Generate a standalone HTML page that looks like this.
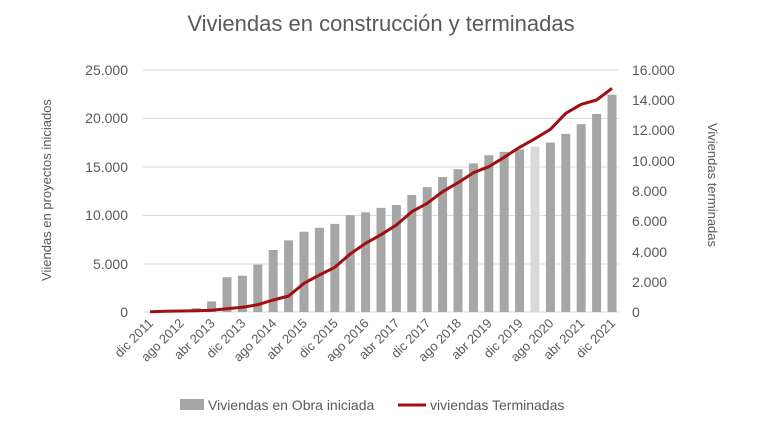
<!DOCTYPE html><html><head><style>body{margin:0;background:#fff}</style></head><body>
<svg width="782" height="430" xmlns="http://www.w3.org/2000/svg" font-family="Liberation Sans, sans-serif" fill="#595959">
<rect width="782" height="430" fill="#fff"/>
<text x="381" y="31" font-size="22" text-anchor="middle">Viviendas en construcción y terminadas</text>
<g stroke="#d9d9d9" stroke-width="1">
<line x1="143" x2="619" y1="70" y2="70"/><line x1="143" x2="619" y1="118.5" y2="118.5"/><line x1="143" x2="619" y1="167" y2="167"/><line x1="143" x2="619" y1="215.5" y2="215.5"/><line x1="143" x2="619" y1="264" y2="264"/><line x1="143" x2="619" y1="312" y2="312"/></g>
<g font-size="14" text-anchor="end"><text x="128" y="75">25.000</text><text x="128" y="123">20.000</text><text x="128" y="172">15.000</text><text x="128" y="220">10.000</text><text x="128" y="269">5.000</text><text x="128" y="317">0</text></g>
<g font-size="14"><text x="632" y="75">16.000</text><text x="632" y="105">14.000</text><text x="632" y="135">12.000</text><text x="632" y="166">10.000</text><text x="632" y="196">8.000</text><text x="632" y="226">6.000</text><text x="632" y="257">4.000</text><text x="632" y="287">2.000</text><text x="632" y="317">0</text></g>
<text transform="translate(51,190) rotate(-90)" font-size="13" text-anchor="middle">Viiendas en proyectos iniciados</text>
<text transform="translate(708,185) rotate(90)" font-size="13" text-anchor="middle">Viviendas terminadas</text>
<g fill="#a6a6a6">
<rect x="191.7" y="308.1" width="9" height="3.9"/>
<rect x="207.1" y="301.4" width="9" height="10.6"/>
<rect x="222.5" y="277.2" width="9" height="34.8"/>
<rect x="237.9" y="275.7" width="9" height="36.3"/>
<rect x="253.3" y="264.6" width="9" height="47.4"/>
<rect x="268.7" y="250" width="9" height="62"/>
<rect x="284.1" y="240.4" width="9" height="71.6"/>
<rect x="299.5" y="231.7" width="9" height="80.3"/>
<rect x="314.9" y="227.8" width="9" height="84.2"/>
<rect x="330.3" y="223.9" width="9" height="88.1"/>
<rect x="345.7" y="215.2" width="9" height="96.8"/>
<rect x="361.1" y="212.3" width="9" height="99.7"/>
<rect x="376.5" y="207.9" width="9" height="104.1"/>
<rect x="391.9" y="205" width="9" height="107"/>
<rect x="407.3" y="194.9" width="9" height="117.1"/>
<rect x="422.7" y="187.1" width="9" height="124.9"/>
<rect x="438.1" y="177" width="9" height="135"/>
<rect x="453.5" y="169.2" width="9" height="142.8"/>
<rect x="468.9" y="163.4" width="9" height="148.6"/>
<rect x="484.3" y="155.2" width="9" height="156.8"/>
<rect x="499.7" y="151.8" width="9" height="160.2"/>
<rect x="515.1" y="149.4" width="9" height="162.6"/>
<rect x="530.5" y="146.5" width="9" height="165.5" fill="#d9d9d9"/>
<rect x="545.9" y="142.6" width="9" height="169.4"/>
<rect x="561.3" y="133.9" width="9" height="178.1"/>
<rect x="576.7" y="124.2" width="9" height="187.8"/>
<rect x="592.1" y="114" width="9" height="198"/>
<rect x="607.5" y="94.7" width="9" height="217.3"/>
</g>
<polyline fill="none" stroke="#a00f14" stroke-width="3" stroke-linejoin="round" points="150,311.7 165.4,311.3 180.8,311 196.2,310.7 211.6,310.3 227,308.7 242.4,307.3 257.8,304.7 273.2,300 288.6,296 304,283.3 319.4,275 334.8,267.3 350.2,254 365.6,243.3 381,234.7 396.4,225 411.8,211.7 427.2,203.3 442.6,191.7 458,182.7 473.4,172.7 488.8,166.7 504.2,157.3 519.6,147.3 535,138.7 550.4,129.3 565.8,113.3 581.2,104.3 596.6,100 612,88.3"/>
<g font-size="13" text-anchor="end">
<text transform="translate(154,324) rotate(-45)">dic 2011</text>
<text transform="translate(184.8,324) rotate(-45)">ago 2012</text>
<text transform="translate(215.6,324) rotate(-45)">abr 2013</text>
<text transform="translate(246.4,324) rotate(-45)">dic 2013</text>
<text transform="translate(277.2,324) rotate(-45)">ago 2014</text>
<text transform="translate(308,324) rotate(-45)">abr 2015</text>
<text transform="translate(338.8,324) rotate(-45)">dic 2015</text>
<text transform="translate(369.6,324) rotate(-45)">ago 2016</text>
<text transform="translate(400.4,324) rotate(-45)">abr 2017</text>
<text transform="translate(431.2,324) rotate(-45)">dic 2017</text>
<text transform="translate(462,324) rotate(-45)">ago 2018</text>
<text transform="translate(492.8,324) rotate(-45)">abr 2019</text>
<text transform="translate(523.6,324) rotate(-45)">dic 2019</text>
<text transform="translate(554.4,324) rotate(-45)">ago 2020</text>
<text transform="translate(585.2,324) rotate(-45)">abr 2021</text>
<text transform="translate(616,324) rotate(-45)">dic 2021</text>
</g>
<rect x="180" y="399" width="24" height="11" fill="#a6a6a6"/><text x="208" y="410" font-size="14">Viviendas en Obra iniciada</text>
<line x1="398" x2="426" y1="405" y2="405" stroke="#a00f14" stroke-width="3"/><text x="430" y="410" font-size="14">viviendas Terminadas</text>
</svg></body></html>
